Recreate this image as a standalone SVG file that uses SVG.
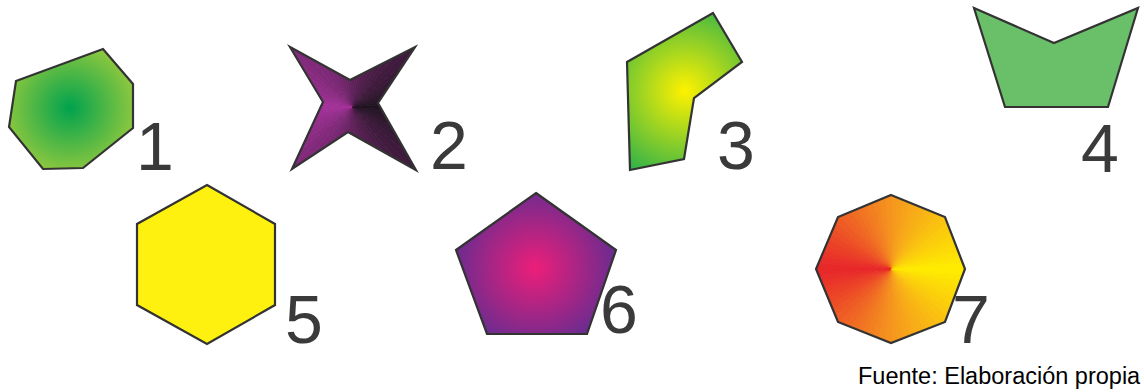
<svg xmlns="http://www.w3.org/2000/svg" xmlns:xlink="http://www.w3.org/1999/xlink" width="1144" height="392" viewBox="0 0 1144 392">
<style>
.sh{stroke:#333333;stroke-width:2.2;stroke-linejoin:miter}
.ol{fill:none;stroke:#333333;stroke-width:2.2;stroke-linejoin:miter}
.num{font-family:"Liberation Sans",Arial,sans-serif;font-size:68px;fill:#3a3a3a}
.cap{font-family:"Liberation Sans",Arial,sans-serif;font-size:23.5px;fill:#000000}
</style>
<defs>
<radialGradient id="g1" gradientUnits="userSpaceOnUse" cx="70" cy="108" r="68">
<stop offset="0" stop-color="#00a24e"/><stop offset="1" stop-color="#93c93e"/>
</radialGradient>
<radialGradient id="g3" gradientUnits="userSpaceOnUse" cx="685" cy="91" r="95">
<stop offset="0" stop-color="#fff200"/><stop offset="1" stop-color="#2fb14a"/>
</radialGradient>
<radialGradient id="g6" gradientUnits="userSpaceOnUse" cx="535" cy="268" r="88">
<stop offset="0" stop-color="#ed1e79"/><stop offset="1" stop-color="#5f2d91"/>
</radialGradient>
<path id="k0" d="M0,0 L100,0 L99.6,8.7Z"/>
<path id="k1" d="M0,0 L99.6,8.7 L98.5,17.4Z"/>
<path id="k2" d="M0,0 L98.5,17.4 L96.6,25.9Z"/>
<path id="k3" d="M0,0 L96.6,25.9 L94,34.2Z"/>
<path id="k4" d="M0,0 L94,34.2 L90.6,42.3Z"/>
<path id="k5" d="M0,0 L90.6,42.3 L86.6,50Z"/>
<path id="k6" d="M0,0 L86.6,50 L81.9,57.4Z"/>
<path id="k7" d="M0,0 L81.9,57.4 L76.6,64.3Z"/>
<path id="k8" d="M0,0 L76.6,64.3 L70.7,70.7Z"/>
<path id="k9" d="M0,0 L70.7,70.7 L64.3,76.6Z"/>
<path id="k10" d="M0,0 L64.3,76.6 L57.4,81.9Z"/>
<path id="k11" d="M0,0 L57.4,81.9 L50,86.6Z"/>
<path id="k12" d="M0,0 L50,86.6 L42.3,90.6Z"/>
<path id="k13" d="M0,0 L42.3,90.6 L34.2,94Z"/>
<path id="k14" d="M0,0 L34.2,94 L25.9,96.6Z"/>
<path id="k15" d="M0,0 L25.9,96.6 L17.4,98.5Z"/>
<path id="k16" d="M0,0 L17.4,98.5 L8.7,99.6Z"/>
<path id="k17" d="M0,0 L8.7,99.6 L0,100Z"/>
<path id="k18" d="M0,0 L0,100 L-8.7,99.6Z"/>
<path id="k19" d="M0,0 L-8.7,99.6 L-17.4,98.5Z"/>
<path id="k20" d="M0,0 L-17.4,98.5 L-25.9,96.6Z"/>
<path id="k21" d="M0,0 L-25.9,96.6 L-34.2,94Z"/>
<path id="k22" d="M0,0 L-34.2,94 L-42.3,90.6Z"/>
<path id="k23" d="M0,0 L-42.3,90.6 L-50,86.6Z"/>
<path id="k24" d="M0,0 L-50,86.6 L-57.4,81.9Z"/>
<path id="k25" d="M0,0 L-57.4,81.9 L-64.3,76.6Z"/>
<path id="k26" d="M0,0 L-64.3,76.6 L-70.7,70.7Z"/>
<path id="k27" d="M0,0 L-70.7,70.7 L-76.6,64.3Z"/>
<path id="k28" d="M0,0 L-76.6,64.3 L-81.9,57.4Z"/>
<path id="k29" d="M0,0 L-81.9,57.4 L-86.6,50Z"/>
<path id="k30" d="M0,0 L-86.6,50 L-90.6,42.3Z"/>
<path id="k31" d="M0,0 L-90.6,42.3 L-94,34.2Z"/>
<path id="k32" d="M0,0 L-94,34.2 L-96.6,25.9Z"/>
<path id="k33" d="M0,0 L-96.6,25.9 L-98.5,17.4Z"/>
<path id="k34" d="M0,0 L-98.5,17.4 L-99.6,8.7Z"/>
<path id="k35" d="M0,0 L-99.6,8.7 L-100,0Z"/>
<clipPath id="c2"><polygon points="290,47 350,80 415,47 378,103 416,170 348,132 292,169 323,102"/></clipPath>
<clipPath id="c7"><polygon points="891,195 945,217 965,269 945,322 891,343 838,322 816,269 838,217"/></clipPath>
</defs>

<g id="node1">
<polygon class="sh" fill="url(#g1)" points="16,81 103,49 133,84 133,128 83,168 43,169 9,127"/>
<text class="num" x="136" y="170">1</text>
</g>

<g id="node2">
<g clip-path="url(#c2)">
<g transform="translate(352,107)">
<g id="h2" stroke-width="0.8">
<use xlink:href="#k0" fill="rgb(32,20,32)" stroke="rgb(32,20,32)"/>
<use xlink:href="#k1" fill="rgb(36,21,35)" stroke="rgb(36,21,35)"/>
<use xlink:href="#k2" fill="rgb(39,22,39)" stroke="rgb(39,22,39)"/>
<use xlink:href="#k3" fill="rgb(43,23,42)" stroke="rgb(43,23,42)"/>
<use xlink:href="#k4" fill="rgb(47,24,46)" stroke="rgb(47,24,46)"/>
<use xlink:href="#k5" fill="rgb(51,25,49)" stroke="rgb(51,25,49)"/>
<use xlink:href="#k6" fill="rgb(54,25,53)" stroke="rgb(54,25,53)"/>
<use xlink:href="#k7" fill="rgb(58,26,56)" stroke="rgb(58,26,56)"/>
<use xlink:href="#k8" fill="rgb(62,27,60)" stroke="rgb(62,27,60)"/>
<use xlink:href="#k9" fill="rgb(66,28,63)" stroke="rgb(66,28,63)"/>
<use xlink:href="#k10" fill="rgb(69,29,66)" stroke="rgb(69,29,66)"/>
<use xlink:href="#k11" fill="rgb(73,30,70)" stroke="rgb(73,30,70)"/>
<use xlink:href="#k12" fill="rgb(77,30,73)" stroke="rgb(77,30,73)"/>
<use xlink:href="#k13" fill="rgb(81,31,77)" stroke="rgb(81,31,77)"/>
<use xlink:href="#k14" fill="rgb(84,32,80)" stroke="rgb(84,32,80)"/>
<use xlink:href="#k15" fill="rgb(88,33,84)" stroke="rgb(88,33,84)"/>
<use xlink:href="#k16" fill="rgb(92,34,87)" stroke="rgb(92,34,87)"/>
<use xlink:href="#k17" fill="rgb(96,35,91)" stroke="rgb(96,35,91)"/>
<use xlink:href="#k18" fill="rgb(99,35,94)" stroke="rgb(99,35,94)"/>
<use xlink:href="#k19" fill="rgb(103,36,98)" stroke="rgb(103,36,98)"/>
<use xlink:href="#k20" fill="rgb(107,37,101)" stroke="rgb(107,37,101)"/>
<use xlink:href="#k21" fill="rgb(111,38,105)" stroke="rgb(111,38,105)"/>
<use xlink:href="#k22" fill="rgb(114,39,108)" stroke="rgb(114,39,108)"/>
<use xlink:href="#k23" fill="rgb(118,40,112)" stroke="rgb(118,40,112)"/>
<use xlink:href="#k24" fill="rgb(122,40,115)" stroke="rgb(122,40,115)"/>
<use xlink:href="#k25" fill="rgb(126,41,119)" stroke="rgb(126,41,119)"/>
<use xlink:href="#k26" fill="rgb(129,42,122)" stroke="rgb(129,42,122)"/>
<use xlink:href="#k27" fill="rgb(133,43,126)" stroke="rgb(133,43,126)"/>
<use xlink:href="#k28" fill="rgb(137,44,129)" stroke="rgb(137,44,129)"/>
<use xlink:href="#k29" fill="rgb(141,45,132)" stroke="rgb(141,45,132)"/>
<use xlink:href="#k30" fill="rgb(144,45,136)" stroke="rgb(144,45,136)"/>
<use xlink:href="#k31" fill="rgb(148,46,139)" stroke="rgb(148,46,139)"/>
<use xlink:href="#k32" fill="rgb(152,47,143)" stroke="rgb(152,47,143)"/>
<use xlink:href="#k33" fill="rgb(156,48,146)" stroke="rgb(156,48,146)"/>
<use xlink:href="#k34" fill="rgb(159,49,150)" stroke="rgb(159,49,150)"/>
<use xlink:href="#k35" fill="rgb(163,50,153)" stroke="rgb(163,50,153)"/>
</g>
<use xlink:href="#h2" transform="scale(1,-1)"/>
</g>
</g>
<polygon class="ol" points="290,47 350,80 415,47 378,103 416,170 348,132 292,169 323,102"/>
<text class="num" x="430" y="169">2</text>
</g>

<g id="node3">
<polygon class="sh" fill="url(#g3)" points="627,62 713,13 742,62 694,98 684,159 630,170"/>
<text class="num" x="717" y="169">3</text>
</g>

<g id="node4">
<polygon class="sh" fill="#6abf69" points="974,8 1054,43 1138,8 1108,107 1005,107"/>
<text class="num" x="1081" y="172">4</text>
</g>

<g id="node5">
<polygon class="sh" fill="#fff10f" points="207,185 275,224 275,305 207,344 137,305 137,224"/>
<text class="num" x="285" y="343">5</text>
</g>

<g id="node6">
<polygon class="sh" fill="url(#g6)" points="536,193 616,250 587,334 487,334 456,250"/>
<text class="num" x="600" y="333">6</text>
</g>

<g id="node7">
<g clip-path="url(#c7)">
<g transform="translate(891,269)">
<g id="h7" stroke-width="0.8">
<use xlink:href="#k0" fill="rgb(255,235,1)" stroke="rgb(255,235,1)"/>
<use xlink:href="#k1" fill="rgb(254,230,3)" stroke="rgb(254,230,3)"/>
<use xlink:href="#k2" fill="rgb(254,225,4)" stroke="rgb(254,225,4)"/>
<use xlink:href="#k3" fill="rgb(253,220,6)" stroke="rgb(253,220,6)"/>
<use xlink:href="#k4" fill="rgb(253,215,8)" stroke="rgb(253,215,8)"/>
<use xlink:href="#k5" fill="rgb(252,210,9)" stroke="rgb(252,210,9)"/>
<use xlink:href="#k6" fill="rgb(251,206,11)" stroke="rgb(251,206,11)"/>
<use xlink:href="#k7" fill="rgb(251,201,13)" stroke="rgb(251,201,13)"/>
<use xlink:href="#k8" fill="rgb(250,196,14)" stroke="rgb(250,196,14)"/>
<use xlink:href="#k9" fill="rgb(250,191,16)" stroke="rgb(250,191,16)"/>
<use xlink:href="#k10" fill="rgb(249,186,18)" stroke="rgb(249,186,18)"/>
<use xlink:href="#k11" fill="rgb(249,181,19)" stroke="rgb(249,181,19)"/>
<use xlink:href="#k12" fill="rgb(248,177,21)" stroke="rgb(248,177,21)"/>
<use xlink:href="#k13" fill="rgb(248,172,23)" stroke="rgb(248,172,23)"/>
<use xlink:href="#k14" fill="rgb(247,167,24)" stroke="rgb(247,167,24)"/>
<use xlink:href="#k15" fill="rgb(246,162,26)" stroke="rgb(246,162,26)"/>
<use xlink:href="#k16" fill="rgb(246,157,28)" stroke="rgb(246,157,28)"/>
<use xlink:href="#k17" fill="rgb(245,152,29)" stroke="rgb(245,152,29)"/>
<use xlink:href="#k18" fill="rgb(245,147,30)" stroke="rgb(245,147,30)"/>
<use xlink:href="#k19" fill="rgb(244,141,31)" stroke="rgb(244,141,31)"/>
<use xlink:href="#k20" fill="rgb(243,134,32)" stroke="rgb(243,134,32)"/>
<use xlink:href="#k21" fill="rgb(242,128,32)" stroke="rgb(242,128,32)"/>
<use xlink:href="#k22" fill="rgb(242,122,33)" stroke="rgb(242,122,33)"/>
<use xlink:href="#k23" fill="rgb(241,116,34)" stroke="rgb(241,116,34)"/>
<use xlink:href="#k24" fill="rgb(240,110,34)" stroke="rgb(240,110,34)"/>
<use xlink:href="#k25" fill="rgb(240,103,35)" stroke="rgb(240,103,35)"/>
<use xlink:href="#k26" fill="rgb(239,97,36)" stroke="rgb(239,97,36)"/>
<use xlink:href="#k27" fill="rgb(238,91,36)" stroke="rgb(238,91,36)"/>
<use xlink:href="#k28" fill="rgb(237,85,37)" stroke="rgb(237,85,37)"/>
<use xlink:href="#k29" fill="rgb(237,78,38)" stroke="rgb(237,78,38)"/>
<use xlink:href="#k30" fill="rgb(236,72,38)" stroke="rgb(236,72,38)"/>
<use xlink:href="#k31" fill="rgb(235,66,39)" stroke="rgb(235,66,39)"/>
<use xlink:href="#k32" fill="rgb(235,60,40)" stroke="rgb(235,60,40)"/>
<use xlink:href="#k33" fill="rgb(234,54,40)" stroke="rgb(234,54,40)"/>
<use xlink:href="#k34" fill="rgb(233,47,41)" stroke="rgb(233,47,41)"/>
<use xlink:href="#k35" fill="rgb(232,41,42)" stroke="rgb(232,41,42)"/>
</g>
<use xlink:href="#h7" transform="scale(1,-1)"/>
</g>
</g>
<polygon class="ol" points="891,195 945,217 965,269 945,322 891,343 838,322 816,269 838,217"/>
<text class="num" x="952" y="343">7</text>
</g>

<g id="connectors"/>

<text class="cap" x="858" y="384">Fuente: Elaboración propia</text>
</svg>
